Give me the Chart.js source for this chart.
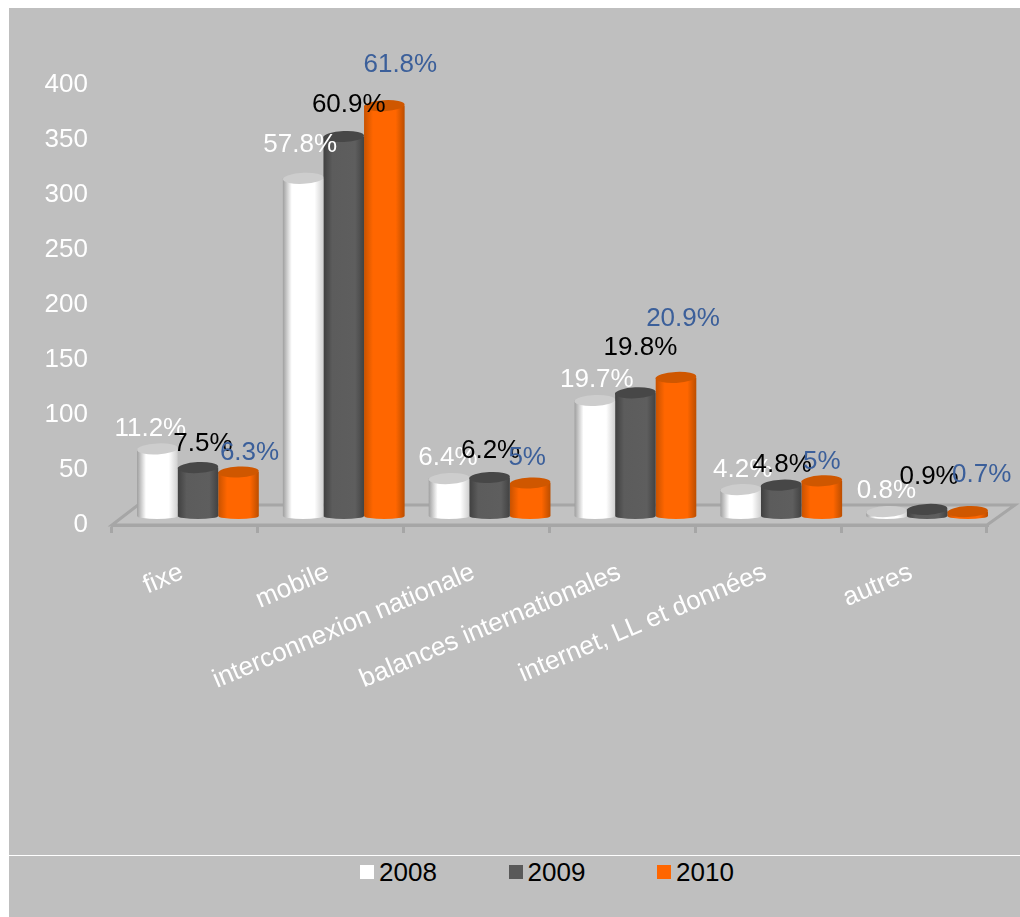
<!DOCTYPE html>
<html>
<head>
<meta charset="utf-8">
<script src="https://cdn.jsdelivr.net/npm/chart.js@4"></script>
<style>
  html, body { margin: 0; padding: 0; background: #fff; }
  #panel { position: absolute; left: 9px; top: 8px; width: 1011px; height: 909px; background: #bfbfbf; }
  #wrap { position: absolute; left: 0; top: 0; width: 1020px; height: 850px; }
  #rule { position: absolute; left: 9px; top: 855px; width: 1011px; height: 1px; background: #fff; }
  #legend { position: absolute; left: 360px; top: 856px; height: 32px; font: 26px "Liberation Sans", Arial, sans-serif; color: #000; }
  #legend span { position: absolute; top: 0; line-height: 32px; white-space: nowrap; }
  #legend i { position: absolute; top: 9px; width: 14px; height: 14px; }
</style>
</head>
<body>
<div id="panel"></div>
<div id="rule"></div>
<div id="wrap"><canvas id="chart"></canvas></div>
<div id="legend"></div>
<script>
const categories = ['fixe', 'mobile', 'interconnexion nationale', 'balances internationales', 'internet, LL et données', 'autres'];
const seriesNames = ['2008', '2009', '2010'];
const values2008 = [61, 307, 34, 105, 24, 4];
const values2009 = [44, 345, 35, 112, 28, 6];
const values2010 = [40, 373, 30, 126, 32, 4];
const shares2008 = ['11.2%', '57.8%', '6.4%', '19.7%', '4.2%', '0.8%'];
const shares2009 = ['7.5%', '60.9%', '6.2%', '19.8%', '4.8%', '0.9%'];
const shares2010 = ['6.3%', '61.8%', '5%', '20.9%', '5%', '0.7%'];
const yTicks = [0, 50, 100, 150, 200, 250, 300, 350, 400];

const FONT = '"Liberation Sans", Arial, sans-serif';

// hand-placed label offsets from the bar top, as in the original chart
const labelDx = [
  [-7, -3, -1, 2, 2, 0],
  [5, 5, 1, 5, 1, 2],
  [11, 16, -3, 7, 0, 14]
];
const labelDy = [
  [-20, -33, -21, -21, -20, -21],
  [-24, -32, -27, -45, -20, -33],
  [-19, -41, -25, -59, -19, -37]
];
const labelColors = ['#ffffff', '#000000', '#3b5f9a'];

const capColors = ['#cdcdcd', '#474747', '#cf5700'];
const sideStops = [
  ['#9f9f9f', '#ffffff', '#ffffff', '#d0d0d0'],
  ['#404040', '#5c5c5c', '#5e5e5e', '#424242'],
  ['#c85200', '#ff6600', '#ff6600', '#bb4e00']
];

// depth of the 3D floor and where the bars stand on it
const DEPTH_X = 26, DEPTH_Y = 20, BAR_DX = 13, BAR_DY = -9;

const cylinderPlugin = {
  id: 'cylinder',
  beforeDraw(chart) {
    const { ctx, chartArea: a } = chart;
    ctx.save();
    ctx.strokeStyle = '#a6a6a6';
    ctx.fillStyle = '#c2c2c2';
    ctx.lineWidth = 3;
    ctx.beginPath();
    ctx.moveTo(a.left, a.bottom);
    ctx.lineTo(a.left + DEPTH_X, a.bottom - DEPTH_Y);
    ctx.lineTo(a.right + DEPTH_X + 2, a.bottom - DEPTH_Y);
    ctx.lineTo(a.right, a.bottom);
    ctx.closePath();
    ctx.fill();
    ctx.stroke();
    ctx.restore();
  },
  beforeDatasetDraw(chart, args) {
    const { ctx } = chart;
    const i = args.index;
    chart.getDatasetMeta(i).data.forEach(bar => {
      const w = bar.width;
      const x = bar.x + BAR_DX - w / 2;
      const top = bar.y + BAR_DY;
      const base = bar.base + BAR_DY;
      const g = ctx.createLinearGradient(x, 0, x + w, 0);
      g.addColorStop(0, sideStops[i][0]);
      g.addColorStop(0.22, sideStops[i][1]);
      g.addColorStop(0.78, sideStops[i][2]);
      g.addColorStop(1, sideStops[i][3]);
      ctx.save();
      ctx.fillStyle = g;
      ctx.beginPath();
      ctx.moveTo(x, top);
      ctx.lineTo(x, base);
      ctx.ellipse(x + w / 2, base, w / 2, 3, 0, Math.PI, 0, true);
      ctx.lineTo(x + w, top);
      ctx.closePath();
      ctx.fill();
      ctx.fillStyle = capColors[i];
      ctx.beginPath();
      ctx.ellipse(x + w / 2, top, w / 2, 5.5, -0.05, 0, Math.PI * 2);
      ctx.fill();
      ctx.restore();
    });
    return false;
  },
  afterDatasetsDraw(chart) {
    const { ctx } = chart;
    const shares = [shares2008, shares2009, shares2010];
    ctx.save();
    ctx.font = '26px ' + FONT;
    ctx.textAlign = 'center';
    ctx.textBaseline = 'middle';
    chart.data.datasets.forEach((ds, i) => {
      chart.getDatasetMeta(i).data.forEach((bar, j) => {
        ctx.fillStyle = labelColors[i];
        ctx.fillText(shares[i][j], bar.x + BAR_DX + labelDx[i][j], bar.y + BAR_DY + labelDy[i][j]);
      });
    });
    ctx.restore();
  }
};

const barColors = ['#ffffff', '#595959', '#ff6600'];

new Chart(document.getElementById('chart'), {
  type: 'bar',
  data: {
    labels: categories,
    datasets: [
      { label: seriesNames[0], data: values2008, backgroundColor: barColors[0] },
      { label: seriesNames[1], data: values2009, backgroundColor: barColors[1] },
      { label: seriesNames[2], data: values2010, backgroundColor: barColors[2] }
    ]
  },
  options: {
    responsive: true,
    maintainAspectRatio: false,
    animation: false,
    barPercentage: 1,
    categoryPercentage: 0.835,
    layout: { padding: { top: 85, left: 0, right: 33, bottom: 0 } },
    plugins: {
      legend: { display: false },
      tooltip: { enabled: false }
    },
    scales: {
      x: {
        border: { color: '#a6a6a6', width: 3 },
        grid: { drawOnChartArea: false, color: '#a6a6a6', lineWidth: 3, tickLength: 8, offset: true },
        afterFit: axis => { axis.height = 325; },
        ticks: {
          color: '#ffffff',
          font: { family: FONT, size: 26 },
          minRotation: 23,
          maxRotation: 23,
          autoSkip: false,
          labelOffset: -3,
          padding: 24
        }
      },
      y: {
        min: 0,
        max: 400,
        border: { display: false },
        grid: { display: false, drawTicks: false },
        afterFit: axis => { axis.width = 112; },
        afterBuildTicks: axis => { axis.ticks = yTicks.map(v => ({ value: v })); },
        ticks: {
          color: '#ffffff',
          font: { family: FONT, size: 26 },
          padding: 24
        }
      }
    }
  },
  plugins: [cylinderPlugin]
});

// legend below the white rule
const legend = document.getElementById('legend');
seriesNames.forEach((name, i) => {
  const step = i * 148.5;
  legend.innerHTML += `<i style="left:${step}px;background:${barColors[i]}"></i><span style="left:${step + 19}px">${name}</span>`;
});
</script>
</body>
</html>
